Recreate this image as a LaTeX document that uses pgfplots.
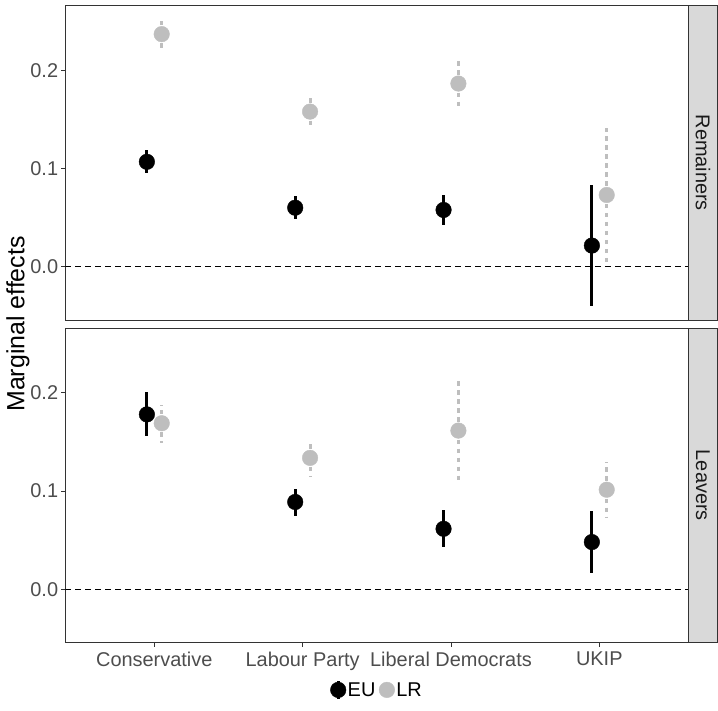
\documentclass[border=0pt]{standalone}
\usepackage{pgfplots}
\pgfplotsset{compat=1.18}
\usepackage{fontspec}
\setmainfont{Liberation Sans}
\definecolor{lrgrey}{HTML}{BEBEBE}
\definecolor{ticklab}{HTML}{4D4D4D}
\definecolor{frame}{HTML}{333333}
\definecolor{stripfill}{HTML}{D9D9D9}
\definecolor{striptext}{HTML}{1A1A1A}

\pgfplotsset{
  panel/.style={
    scale only axis, width=623bp,
    xmin=0.4, xmax=4.6, ymin=-0.0545, ymax=0.266,
    axis line style={frame, line width=0.9bp},
    ytick={0,0.1,0.2}, ytick pos=left,
    tick align=outside, major tick length=4bp,
    tick style={frame, line width=0.9bp},
    yticklabel style={font=\fontsize{20}{22}\selectfont, text=ticklab, inner sep=0pt, xshift=-3bp},
    xticklabel style={font=\fontsize{20}{22}\selectfont, text=ticklab, yshift=-2bp},
    /pgf/number format/.cd, fixed, fixed zerofill, precision=1, assume math mode=true,
    /pgfplots/.cd,
  },
  eu/.style={only marks, mark=*, mark size=7.8bp, black,
    error bars/.cd, y dir=both, y explicit, error mark=none,
    error bar style={line width=3.1bp, black, solid}, /pgfplots/.cd},
  lr/.style={only marks, mark=*, mark size=7.8bp, color=lrgrey,
    mark options={draw=lrgrey, fill=lrgrey, solid},
    error bars/.cd, y dir=both, y explicit, error mark=none,
    error bar style={line width=3.1bp, lrgrey, dash pattern=on 4.5bp off 4.5bp}, /pgfplots/.cd},
  zeroline/.style={black, line width=0.9bp, dash pattern=on 6bp off 4bp, forget plot},
}

\begin{document}
\begin{tikzpicture}
\useasboundingbox (0,0) rectangle (718bp,711bp);

% Top panel: Remainers
\begin{axis}[panel, at={(65.3bp,391bp)}, anchor=south west, height=314.3bp, xtick=\empty]
\addplot[zeroline] coordinates {(0.4,0) (4.6,0)};
\addplot[eu] coordinates {
  (0.95,0.1068) += (0,0.0119) -= (0,0.0118)
  (1.95,0.0600) += (0,0.0120) -= (0,0.0120)
  (2.95,0.0577) += (0,0.0153) -= (0,0.0157)
  (3.95,0.0214) += (0,0.0616) -= (0,0.0614)
};
\addplot[lr] coordinates {
  (1.05,0.2370) += (0,0.0130) -= (0,0.0140)
  (2.05,0.1580) += (0,0.0170) -= (0,0.0170)
  (3.05,0.1866) += (0,0.0244) -= (0,0.0246)
  (4.05,0.0730) += (0,0.0684) -= (0,0.0705)
};
\end{axis}

% Bottom panel: Leavers
\begin{axis}[panel, at={(65.3bp,68.3bp)}, anchor=south west, height=314.7bp,
  xtick={1,2,3,4}, xtick pos=bottom,
  xticklabels={Conservative, Labour Party, Liberal Democrats, UKIP},
  legend columns=2,
  legend style={draw=none, fill=none, at={(0.5,-0.15)}, anchor=center,
    font=\fontsize{20}{22}\selectfont, inner sep=0pt,
    /tikz/every odd column/.append style={column sep=0bp},
    /tikz/every even column/.append style={column sep=2bp},
    nodes={inner sep=1.5bp}},
]
\addplot[zeroline] coordinates {(0.4,0) (4.6,0)};
\addplot[eu, legend image code/.code={\draw[black, line width=3.1bp] (0bp,-9bp) -- (0bp,9bp); \fill[black] (0bp,0bp) circle (7.8bp);}] coordinates {
  (0.95,0.1780) += (0,0.0230) -= (0,0.0220)
  (1.95,0.0888) += (0,0.0132) -= (0,0.0138)
  (2.95,0.0615) += (0,0.0195) -= (0,0.0185)
  (3.95,0.0480) += (0,0.0320) -= (0,0.0317)
};
\addlegendentry{EU}
\addplot[lr, legend image code/.code={\fill[lrgrey] (0bp,0bp) circle (7.8bp);}] coordinates {
  (1.05,0.1690) += (0,0.0190) -= (0,0.0200)
  (2.05,0.1337) += (0,0.0183) -= (0,0.0187)
  (3.05,0.1615) += (0,0.0510) -= (0,0.0545)
  (4.05,0.1013) += (0,0.0287) -= (0,0.0289)
};
\addlegendentry{LR}
\end{axis}

% Facet strips
\draw[frame, fill=stripfill, line width=0.9bp] (688.8bp,391bp) rectangle (717bp,705.3bp);
\node[rotate=-90, text=striptext, font=\fontsize{20}{22}\selectfont] at (702.9bp,548.2bp) {Remainers};
\draw[frame, fill=stripfill, line width=0.9bp] (688.8bp,68.3bp) rectangle (717bp,383bp);
\node[rotate=-90, text=striptext, font=\fontsize{20}{22}\selectfont] at (702.9bp,225.7bp) {Leavers};

% Y axis title
\node[rotate=90, font=\fontsize{25}{28}\selectfont] at (18bp,387bp) {Marginal effects};
\end{tikzpicture}
\end{document}
